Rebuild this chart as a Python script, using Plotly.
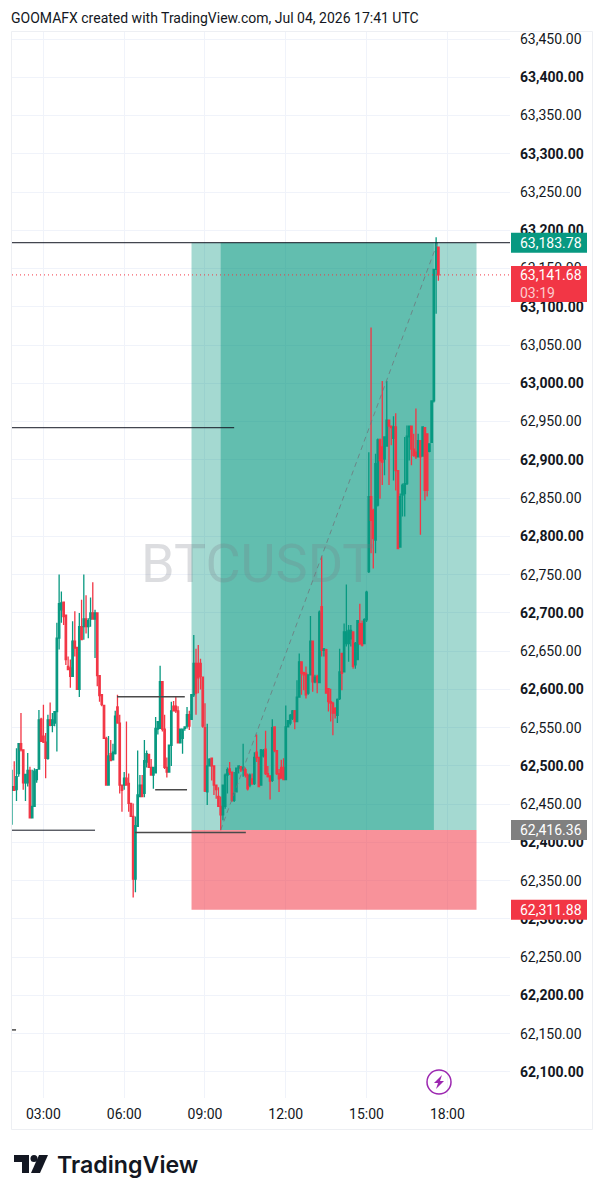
import pandas as pd
import plotly.graph_objects as go

# 5-minute BTCUSDT candles, 01:50 to 17:40 UTC
session_start = "2026-07-04 01:50"
open_ = [
    62468, 62473, 62469, 62490, 62529, 62521, 62478, 62478, 62494, 62432,
    62447, 62482, 62496, 62561, 62539, 62531, 62510, 62560, 62553, 62556,
    62571, 62667, 62704, 62714, 62697, 62630, 62628, 62617, 62663, 62655,
    62600, 62682, 62682, 62692, 62682, 62692, 62700, 62692, 62700, 62618,
    62593, 62579, 62536, 62475, 62516, 62508, 62516, 62577, 62556, 62475,
    62475, 62484, 62477, 62451, 62434, 62352, 62421, 62460, 62475, 62464,
    62505, 62515, 62498, 62488, 62491, 62548, 62549, 62610, 62548, 62498,
    62492, 62527, 62578, 62578, 62572, 62530, 62536, 62549, 62552, 62567,
    62561, 62593, 62634, 62634, 62634, 62616, 62550, 62466, 62500, 62510,
    62500, 62475, 62460, 62447, 62436, 62447, 62488, 62496, 62492, 62455,
    62466, 62497, 62499, 62495, 62495, 62488, 62475, 62483, 62477, 62518,
    62511, 62475, 62513, 62522, 62490, 62487, 62481, 62551, 62520, 62490,
    62498, 62498, 62482, 62551, 62556, 62562, 62572, 62558, 62590, 62636,
    62622, 62621, 62595, 62619, 62663, 62610, 62617, 62609, 62708, 62651,
    62652, 62601, 62584, 62582, 62575, 62566, 62588, 62647, 62623, 62660,
    62660, 62666, 62675, 62632, 62639, 62686, 62686, 62660, 62691, 62754,
    62852, 62834, 62795, 62841, 62926, 62917, 62901, 62918, 62952, 62944,
    62928, 62943, 62886, 62786, 62854, 62856, 62869, 62930, 62944, 62914,
    62910, 62904, 62925, 62905, 62942, 62934, 62911, 62923, 62977, 63149, 63178,
]
high = [
    62495, 62506, 62523, 62530, 62569, 62521, 62489, 62517, 62499, 62495,
    62497, 62495, 62573, 62563, 62580, 62543, 62567, 62583, 62569, 62571,
    62687, 62750, 62728, 62715, 62697, 62643, 62639, 62689, 62702, 62655,
    62700, 62717, 62750, 62723, 62693, 62720, 62740, 62704, 62700, 62618,
    62593, 62579, 62538, 62539, 62534, 62529, 62572, 62593, 62567, 62475,
    62492, 62558, 62490, 62451, 62451, 62434, 62520, 62488, 62488, 62534,
    62520, 62516, 62509, 62496, 62564, 62558, 62631, 62610, 62567, 62511,
    62526, 62584, 62585, 62591, 62578, 62549, 62549, 62552, 62577, 62572,
    62594, 62671, 62653, 62658, 62640, 62616, 62582, 62555, 62510, 62510,
    62500, 62475, 62472, 62460, 62475, 62490, 62498, 62505, 62492, 62492,
    62498, 62500, 62500, 62529, 62498, 62490, 62490, 62490, 62518, 62541,
    62511, 62522, 62522, 62546, 62500, 62487, 62561, 62551, 62520, 62496,
    62508, 62510, 62579, 62560, 62568, 62573, 62573, 62612, 62647, 62636,
    62623, 62630, 62619, 62696, 62663, 62619, 62619, 62703, 62774, 62654,
    62653, 62601, 62601, 62584, 62577, 62588, 62653, 62647, 62686, 62737,
    62684, 62684, 62675, 62662, 62690, 62712, 62690, 62693, 62729, 62910,
    63073, 62836, 62908, 62928, 62928, 63003, 62930, 63003, 62952, 62945,
    62957, 62961, 62886, 62856, 62869, 62930, 62945, 62944, 62944, 62934,
    62967, 62934, 62925, 62944, 62942, 62934, 62921, 62977, 63149, 63191, 63178,
]
low = [
    62423, 62469, 62454, 62486, 62519, 62469, 62454, 62473, 62432, 62432,
    62447, 62478, 62495, 62532, 62530, 62484, 62508, 62552, 62544, 62552,
    62519, 62652, 62687, 62684, 62632, 62626, 62602, 62617, 62643, 62600,
    62590, 62665, 62665, 62673, 62667, 62682, 62691, 62641, 62604, 62584,
    62578, 62536, 62475, 62475, 62507, 62509, 62515, 62556, 62464, 62440,
    62469, 62475, 62440, 62434, 62328, 62335, 62421, 62459, 62459, 62459,
    62498, 62498, 62488, 62470, 62491, 62541, 62549, 62545, 62496, 62485,
    62492, 62500, 62572, 62569, 62530, 62530, 62516, 62546, 62549, 62547,
    62561, 62590, 62567, 62595, 62600, 62550, 62466, 62449, 62500, 62481,
    62462, 62457, 62447, 62416, 62429, 62444, 62464, 62488, 62453, 62453,
    62466, 62490, 62492, 62486, 62485, 62468, 62472, 62475, 62475, 62505,
    62472, 62475, 62511, 62488, 62485, 62456, 62479, 62518, 62488, 62466,
    62484, 62482, 62482, 62551, 62553, 62560, 62548, 62558, 62590, 62593,
    62599, 62588, 62593, 62619, 62597, 62608, 62595, 62608, 62643, 62643,
    62595, 62571, 62558, 62540, 62562, 62556, 62586, 62599, 62623, 62656,
    62636, 62656, 62627, 62627, 62638, 62658, 62656, 62660, 62688, 62752,
    62778, 62758, 62778, 62839, 62849, 62867, 62880, 62917, 62867, 62919,
    62873, 62860, 62784, 62786, 62826, 62826, 62867, 62899, 62893, 62904,
    62901, 62904, 62802, 62904, 62847, 62852, 62910, 62923, 62975, 63091, 63134,
]
close = [
    62473, 62468, 62486, 62529, 62521, 62478, 62489, 62494, 62432, 62447,
    62493, 62495, 62560, 62532, 62531, 62510, 62560, 62553, 62560, 62571,
    62667, 62712, 62713, 62695, 62639, 62626, 62617, 62663, 62654, 62600,
    62682, 62665, 62692, 62682, 62690, 62700, 62692, 62700, 62618, 62592,
    62580, 62536, 62475, 62513, 62507, 62518, 62565, 62556, 62475, 62468,
    62484, 62475, 62451, 62434, 62352, 62422, 62462, 62475, 62460, 62507,
    62516, 62498, 62488, 62498, 62549, 62558, 62610, 62548, 62498, 62492,
    62527, 62572, 62572, 62572, 62530, 62548, 62548, 62551, 62567, 62552,
    62593, 62634, 62595, 62615, 62617, 62552, 62467, 62500, 62509, 62500,
    62475, 62469, 62447, 62436, 62475, 62488, 62495, 62492, 62455, 62464,
    62497, 62500, 62495, 62498, 62488, 62470, 62488, 62477, 62511, 62511,
    62473, 62521, 62520, 62490, 62486, 62480, 62550, 62520, 62490, 62483,
    62484, 62482, 62551, 62559, 62566, 62572, 62558, 62590, 62636, 62621,
    62619, 62593, 62619, 62663, 62610, 62616, 62610, 62701, 62651, 62653,
    62595, 62584, 62582, 62569, 62569, 62587, 62623, 62621, 62675, 62675,
    62677, 62677, 62630, 62660, 62690, 62660, 62658, 62691, 62727, 62852,
    62821, 62797, 62895, 62926, 62899, 62897, 62930, 62952, 62944, 62942,
    62943, 62886, 62784, 62852, 62867, 62869, 62931, 62944, 62914, 62906,
    62904, 62925, 62904, 62943, 62860, 62860, 62921, 62977, 63149, 63183, 63141.68,
]

# Long-position drawing: entry, target and stop levels with their time span
target_price = 63183.78
entry_price = 62416.36
stop_price = 62311.88
last_price = 63141.68
countdown = "03:19"
position_start = "2026-07-04 08:30"
position_end = "2026-07-04 19:05"
trade_start = "2026-07-04 09:35"
trade_end = "2026-07-04 17:30"

# Hand-drawn support and resistance lines: (start time, end time, price, colour, width)
levels = [
    ("2026-07-04 01:50", "2026-07-04 20:20", target_price, "#131722", 1),
    ("2026-07-04 01:50", "2026-07-04 10:05", 62942, "#131722", 1),
    ("2026-07-04 01:50", "2026-07-04 04:55", 62416, "#131722", 1),
    ("2026-07-04 06:24", "2026-07-04 10:31", 62413, "#4a4a4a", 1.5),
    ("2026-07-04 05:44", "2026-07-04 08:15", 62590.5, "#4a4a4a", 1.5),
    ("2026-07-04 07:09", "2026-07-04 08:20", 62469, "#4a4a4a", 1.5),
    ("2026-07-04 01:50", "2026-07-04 01:59", 62155, "#4a4a4a", 1.5),
]

price_ticks = list(range(62100, 63451, 50))
price_labels = [f"<b>{p:,.2f}</b>" if p % 100 == 0 else f"{p:,.2f}" for p in price_ticks]
time_axis_range = ["2026-07-04 01:50", "2026-07-04 20:19:36"]
price_axis_range = [62066, 63459.15]

WIDTH, HEIGHT = 605, 1199
UP, DOWN = "#089981", "#F23645"
INK = "#131722"
FONT = "Roboto"


def px(x):
    return x / WIDTH


def py(y):
    return 1 - y / HEIGHT


times = pd.date_range(session_start, periods=len(close), freq="5min")

fig = go.Figure(
    go.Candlestick(
        x=times,
        open=open_,
        high=high,
        low=low,
        close=close,
        increasing=dict(line=dict(color=UP, width=1.3), fillcolor=UP),
        decreasing=dict(line=dict(color=DOWN, width=1.3), fillcolor=DOWN),
        whiskerwidth=0,
        showlegend=False,
        hoverinfo="skip",
    )
)

shapes = []


def data_rect(x0, x1, y0, y1, color):
    shapes.append(dict(type="rect", xref="x", yref="y", x0=x0, x1=x1, y0=y0, y1=y1,
                       fillcolor=color, line_width=0, layer="between"))


# Outer frame of the chart pane
shapes.append(dict(type="rect", xref="paper", yref="paper", x0=px(11.5), x1=px(592.5),
                   y0=py(1129.5), y1=py(31.5), line=dict(color="#EDEFF3", width=1),
                   fillcolor="rgba(0,0,0,0)", layer="below"))

# Position tool: reward and risk zones, then the filled trade span
data_rect(position_start, position_end, entry_price, target_price, "rgba(8,153,129,0.37)")
data_rect(trade_start, trade_end, entry_price, target_price, "rgba(8,153,129,0.42)")
data_rect(position_start, position_end, stop_price, entry_price, "rgba(242,54,69,0.54)")

# Trade path from entry to target
shapes.append(dict(type="line", xref="x", yref="y", x0=trade_start, y0=entry_price,
                   x1="2026-07-04 17:38", y1=target_price,
                   line=dict(color="rgba(110,120,125,0.8)", width=1, dash="5px,4px"), layer="above"))

for start, end, price, color, width in levels:
    shapes.append(dict(type="line", xref="x", yref="y", x0=start, x1=end, y0=price, y1=price,
                       line=dict(color=color, width=width), layer="above"))

# Last-price dotted line
shapes.append(dict(type="line", xref="x", yref="y", x0=time_axis_range[0], x1=time_axis_range[1],
                   y0=last_price, y1=last_price,
                   line=dict(color=DOWN, width=1, dash="1px,3px"), layer="above"))


def price_tag(price, color, top=-10, bottom=10):
    shapes.append(dict(type="rect", xref="paper", yref="y", ysizemode="pixel", yanchor=price,
                       x0=px(511), x1=px(587), y0=-top, y1=-bottom,
                       fillcolor=color, line_width=0, layer="above"))


price_tag(target_price, UP)
price_tag(last_price, DOWN, top=-9, bottom=27)
price_tag(entry_price, "#808080")
price_tag(stop_price, DOWN)

# Lightning badge beside the latest bars
shapes.append(dict(type="circle", xref="paper", yref="paper", x0=px(427), x1=px(451),
                   y0=py(1094), y1=py(1070), line=dict(color="#9C27B0", width=1.5),
                   fillcolor="rgba(255,255,255,0)", layer="above"))
bolt = [(442, 1075), (434, 1083), (438, 1083), (436, 1089), (444, 1081), (440, 1081)]
shapes.append(dict(type="path", xref="paper", yref="paper",
                   path="M " + " L ".join(f"{px(x)},{py(y)}" for x, y in bolt) + " Z",
                   fillcolor="#9C27B0", line_width=0, layer="above"))

# TradingView logo mark
logo_bar = [(14, 1155), (29, 1155), (29, 1173), (22, 1173), (22, 1162), (14, 1162)]
logo_slash = [(39, 1155), (48, 1155), (40, 1173), (31, 1173)]
for outline in (logo_bar, logo_slash):
    shapes.append(dict(type="path", xref="paper", yref="paper",
                       path="M " + " L ".join(f"{px(x)},{py(y)}" for x, y in outline) + " Z",
                       fillcolor="#131722", line_width=0, layer="above"))
shapes.append(dict(type="circle", xref="paper", yref="paper", x0=px(30.5), x1=px(37.5),
                   y0=py(1162), y1=py(1155), fillcolor="#131722", line_width=0, layer="above"))

annotations = [
    # Snapshot header
    dict(text="GOOMAFX created with TradingView.com, Jul 04, 2026 17:41 UTC",
         xref="paper", yref="paper", x=px(9), y=py(18), xanchor="left", yanchor="middle",
         showarrow=False, font=dict(family=FONT, size=14, color=INK)),
    # Symbol watermark
    dict(text="BTCUSDT", xref="paper", yref="paper", x=px(258), y=py(563),
         xanchor="center", yanchor="middle", showarrow=False,
         font=dict(family=FONT, size=54, color="rgba(120,123,134,0.26)")),
    # Wordmark
    dict(text="TradingView", xref="paper", yref="paper", x=px(55), y=py(1165),
         xanchor="left", yanchor="middle", showarrow=False,
         font=dict(family="Inter", size=23.2, color=INK, weight=600)),
]


def tag_text(price, text, color="#FFFFFF", shift=0):
    annotations.append(dict(text=text, xref="paper", yref="y", x=px(518), y=price, yshift=shift,
                            xanchor="left", yanchor="middle", showarrow=False,
                            font=dict(family=FONT, size=14, color=color)))


tag_text(target_price, f"{target_price:,.2f}")
tag_text(last_price, f"{last_price:,.2f}")
tag_text(last_price, countdown, color="rgba(255,255,255,0.75)", shift=-18)
tag_text(entry_price, f"{entry_price:,.2f}")
tag_text(stop_price, f"{stop_price:,.2f}")

fig.update_layout(
    width=WIDTH,
    height=HEIGHT,
    autosize=False,
    margin=dict(l=0, r=0, t=0, b=0),
    paper_bgcolor="#FFFFFF",
    plot_bgcolor="#FFFFFF",
    showlegend=False,
    boxgap=0.1,
    shapes=shapes,
    annotations=annotations,
    font=dict(family=FONT, size=14, color=INK),
    xaxis=dict(
        domain=[px(12), px(510)],
        range=time_axis_range,
        rangeslider=dict(visible=False),
        type="date",
        tick0="2026-07-04 00:00",
        dtick=10800000,
        tickformat="%H:%M",
        showgrid=True,
        gridcolor="#F0F3FA",
        gridwidth=1,
        zeroline=False,
        showline=False,
        ticks="",
        ticklabelstandoff=6,
        tickfont=dict(family=FONT, size=14, color=INK),
    ),
    yaxis=dict(
        domain=[py(1098), py(32)],
        range=price_axis_range,
        side="right",
        tickmode="array",
        tickvals=price_ticks,
        ticktext=price_labels,
        showgrid=True,
        gridcolor="#F0F3FA",
        gridwidth=1,
        zeroline=False,
        showline=False,
        ticks="",
        ticklabelstandoff=9,
        tickfont=dict(family=FONT, size=14, color=INK),
    ),
)

fig.write_html("out.html")
